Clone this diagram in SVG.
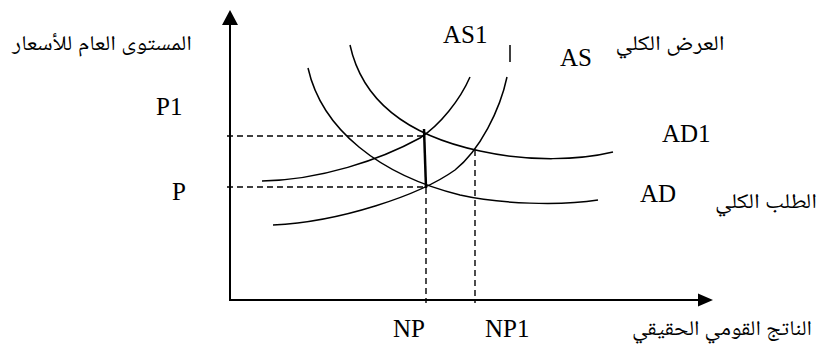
<svg xmlns="http://www.w3.org/2000/svg" width="822" height="353" viewBox="0 0 822 353">
<style>
.ax{stroke:#000;stroke-width:2;fill:none}
.cv{stroke:#000;stroke-width:1.5;fill:none}
.dash{stroke:#000;stroke-width:1.4;stroke-dasharray:6,4;fill:none}
.lat{font-family:"Liberation Serif","Times New Roman",serif;font-size:25px;fill:#000}
.ar{font-family:"Noto Naskh Arabic","Noto Serif Arabic","Liberation Serif","DejaVu Sans",serif;font-size:21px;fill:#000;text-anchor:middle}
</style>
<rect width="822" height="353" fill="#fff"/>
<g id="axes">
<line class="ax" x1="230" y1="300" x2="230" y2="22"/>
<polygon points="230,10 222,25 238,25" fill="#000"/>
<line class="ax" x1="229" y1="300" x2="700" y2="300"/>
<polygon points="713,300 698,293.5 698,306.5" fill="#000"/>
</g>
<g id="curves">
<path id="AD" class="cv" d="M308,68 C322,130 380,175 460,195 C500,204 560,206 598,200"/>
<path id="AD1" class="cv" d="M350,45 C362,100 405,135 480,151 C530,162 580,160 613,152"/>
<path id="AS" class="cv" d="M273,225 C340,222 420,195 455,170 C480,150 500,110 507,77"/>
<line class="cv" x1="510" y1="45" x2="510" y2="62" stroke-width="1"/>
<path id="AS1" class="cv" d="M262,181 C320,180 380,160 420,138 C440,125 460,100 470,77"/>
</g>
<g id="connectors">
<line class="dash" x1="227" y1="136" x2="424" y2="136"/>
<line class="dash" x1="227" y1="187" x2="426" y2="187"/>
<line class="dash" x1="426" y1="188" x2="426" y2="303"/>
<line class="dash" x1="475" y1="150" x2="475" y2="303"/>
<line x1="424" y1="129" x2="426" y2="188" stroke="#000" stroke-width="2.5"/>
</g>
<g id="labels">
<text class="lat" x="443" y="43">AS1</text>
<text class="lat" x="560" y="66">AS</text>
<text class="lat" x="662" y="142">AD1</text>
<text class="lat" x="640" y="202">AD</text>
<text class="lat" x="156" y="115">P1</text>
<text class="lat" x="172" y="200">P</text>
<text class="lat" x="393" y="337">NP</text>
<text class="lat" x="485" y="337">NP1</text>
<text class="ar" x="102" y="50" textLength="180" lengthAdjust="spacingAndGlyphs">المستوى العام للأسعار</text>
<text class="ar" x="670" y="50" textLength="109" lengthAdjust="spacingAndGlyphs">العرض الكلي</text>
<text class="ar" x="766" y="208" textLength="102" lengthAdjust="spacingAndGlyphs">الطلب الكلي</text>
<text class="ar" x="722" y="335" textLength="180" lengthAdjust="spacingAndGlyphs">الناتج القومي الحقيقي</text>
</g>
</svg>
